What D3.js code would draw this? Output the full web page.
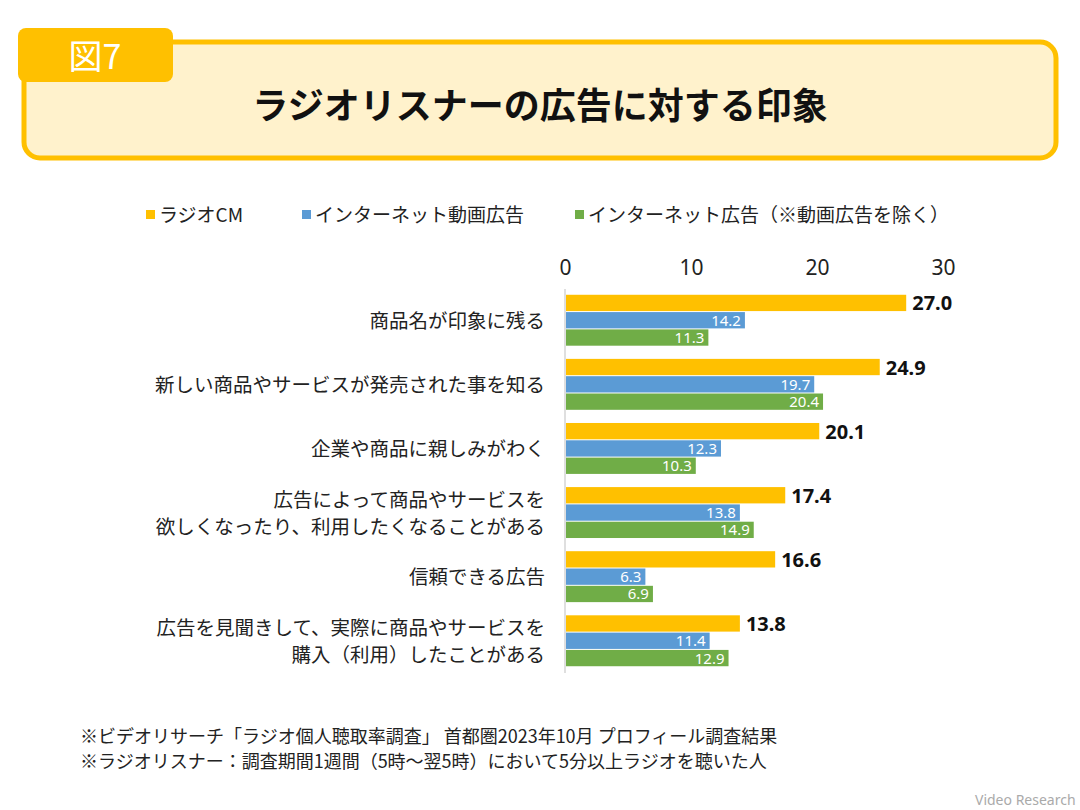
<!DOCTYPE html>
<html lang="ja">
<head>
<meta charset="utf-8">
<script src="https://cdnjs.cloudflare.com/ajax/libs/d3/7.8.5/d3.min.js"></script>
<style>
  body { margin: 0; background: #fff; }
  svg { font-family: "Noto Sans CJK JP", "Noto Sans", sans-serif; }
</style>
</head>
<body>
<svg id="chart" width="1080" height="810"></svg>
<script>
// data
var categories = [
  ["商品名が印象に残る"],
  ["新しい商品やサービスが発売された事を知る"],
  ["企業や商品に親しみがわく"],
  ["広告によって商品やサービスを", "欲しくなったり、利用したくなることがある"],
  ["信頼できる広告"],
  ["広告を見聞きして、実際に商品やサービスを", "購入（利用）したことがある"]
];
var seriesNames = ["ラジオCM", "インターネット動画広告", "インターネット広告（※動画広告を除く）"];
var radioCM = [27.0, 24.9, 20.1, 17.4, 16.6, 13.8];
var netVideo = [14.2, 19.7, 12.3, 13.8, 6.3, 11.4];
var netAd = [11.3, 20.4, 10.3, 14.9, 6.9, 12.9];
var tickValues = [0, 10, 20, 30];
var colors = ["#FFC000", "#5B9BD5", "#70AD47"];

var svg = d3.select("#chart");

// header box
svg.append("rect").attr("x", 24).attr("y", 42).attr("width", 1032).attr("height", 116)
  .attr("rx", 16).attr("fill", "#FFF2CC").attr("stroke", "#FFC000").attr("stroke-width", 5);
svg.append("rect").attr("x", 18).attr("y", 28).attr("width", 155).attr("height", 54)
  .attr("rx", 8).attr("fill", "#FFC000");
svg.append("text").attr("x", 95).attr("y", 69).attr("text-anchor", "middle")
  .attr("fill", "#fff").attr("font-size", 34).text("図7");
svg.append("text").attr("x", 540).attr("y", 119).attr("text-anchor", "middle")
  .attr("font-size", 36).attr("font-weight", "bold").attr("fill", "#111")
  .text("ラジオリスナーの広告に対する印象");

// legend
var legX = [146, 302, 575];
seriesNames.forEach(function(n, i) {
  svg.append("rect").attr("x", legX[i]).attr("y", 210).attr("width", 9).attr("height", 9).attr("fill", colors[i]);
  svg.append("text").attr("x", legX[i] + 13).attr("y", 222).attr("font-size", 19).attr("fill", "#222").text(n);
});

// scales
var x = d3.scaleLinear().domain([0, 30]).range([565, 943]);
var y = d3.scaleBand().domain(d3.range(categories.length)).range([289, 673]).paddingInner(0.19).paddingOuter(0.09);
var bh = y.bandwidth() / 3;

svg.append("g").attr("transform", "translate(0,278)")
  .call(d3.axisTop(x).tickValues(tickValues).tickSize(0).tickFormat(d3.format("d")))
  .call(function(g) {
    g.select(".domain").remove();
    g.selectAll("text").attr("font-size", 21).attr("fill", "#222").attr("font-family", "Noto Sans, sans-serif");
  });
svg.append("line").attr("x1", x(0)).attr("x2", x(0)).attr("y1", 289).attr("y2", 673)
  .attr("stroke", "#bfbfbf");

var allSeries = [radioCM, netVideo, netAd];
allSeries.forEach(function(vals, s) {
  var g = svg.append("g");
  g.selectAll("rect").data(vals).enter().append("rect")
    .attr("x", x(0) + 1)
    .attr("y", function(d, i) { return y(i) + s * bh; })
    .attr("width", function(d) { return x(d) - x(0); })
    .attr("height", bh - 1)
    .attr("fill", colors[s]);
  g.selectAll("text").data(vals).enter().append("text")
    .attr("x", function(d) { return s === 0 ? x(d) + 7 : x(d) - 3; })
    .attr("y", function(d, i) { return y(i) + s * bh + bh / 2 + (s === 0 ? 7 : 5); })
    .attr("text-anchor", s === 0 ? "start" : "end")
    .attr("font-size", s === 0 ? 20 : 15)
    .attr("font-weight", s === 0 ? "bold" : "normal")
    .attr("fill", s === 0 ? "#111" : "#fff")
    .attr("font-family", "Noto Sans, sans-serif")
    .text(function(d) { return d.toFixed(1); });
});

// category labels
categories.forEach(function(lines, i) {
  var cy = y(i) + y.bandwidth() / 2;
  var t = svg.append("text").attr("text-anchor", "end").attr("font-size", 19.5).attr("fill", "#222");
  lines.forEach(function(l, k) {
    t.append("tspan").attr("x", 545)
      .attr("y", cy + 7 + (k - (lines.length - 1) / 2) * 27).text(l);
  });
});

// notes
svg.append("text").attr("x", 80).attr("y", 743).attr("font-size", 18).attr("fill", "#222")
  .text("※ビデオリサーチ「ラジオ個人聴取率調査」 首都圏2023年10月 プロフィール調査結果");
svg.append("text").attr("x", 80).attr("y", 768).attr("font-size", 18).attr("fill", "#222")
  .text("※ラジオリスナー：調査期間1週間（5時～翌5時）において5分以上ラジオを聴いた人");
svg.append("text").attr("x", 975).attr("y", 805).attr("font-size", 14).attr("fill", "#aaa")
  .attr("font-family", "Noto Sans, sans-serif").text("Video Research");
</script>
</body>
</html>
